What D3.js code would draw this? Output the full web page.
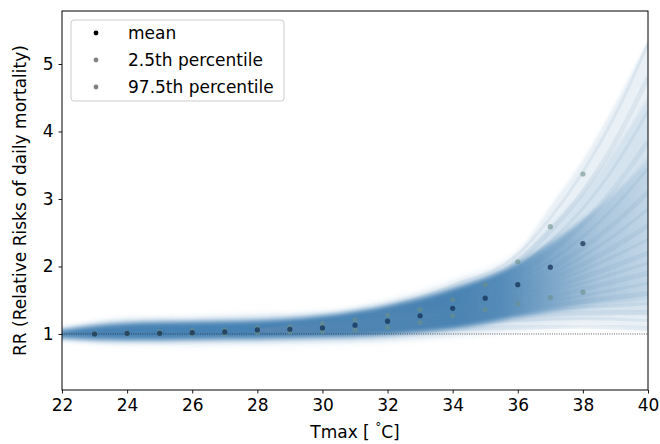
<!doctype html>
<meta charset="utf-8">
<title>RR vs Tmax</title>
<script src="https://cdn.jsdelivr.net/npm/d3@7"></script>
<style>
  body { margin: 0; background: #fff; }
  text { font-family: "DejaVu Sans", sans-serif; fill: #000; }
</style>
<body>
<div id="chart"></div>
<script>

// point estimates per degree
var temps = [23, 24, 25, 26, 27, 28, 29, 30, 31, 32, 33, 34, 35, 36, 37, 38];
var meanRR = [1.00, 1.01, 1.01, 1.02, 1.03, 1.06, 1.07, 1.09, 1.13, 1.19, 1.27, 1.38, 1.53, 1.73, 1.99, 2.34];
var p025 = [1.00, 1.00, 1.00, 1.00, 1.00, 1.02, 1.03, 1.04, 1.06, 1.10, 1.17, 1.27, 1.36, 1.45, 1.54, 1.62];
var p975 = [1.01, 1.02, 1.03, 1.05, 1.06, 1.10, 1.11, 1.15, 1.21, 1.28, 1.36, 1.51, 1.73, 2.07, 2.59, 3.37];

// envelope of the sampled curves
var fanT = [22, 24, 26, 28, 30, 32, 34, 36, 37, 38, 39, 40];
var coreLo = [0.94, 0.91, 0.92, 0.93, 0.95, 0.99, 1.08, 1.25, 1.33, 1.40, 1.45, 1.50];
var coreHi = [1.06, 1.16, 1.18, 1.20, 1.27, 1.42, 1.67, 2.05, 2.35, 2.70, 3.10, 3.60];
var midLo = [0.93, 0.88, 0.88, 0.89, 0.90, 0.93, 1.01, 1.15, 1.20, 1.25, 1.27, 1.28];
var midHi = [1.07, 1.20, 1.22, 1.25, 1.30, 1.46, 1.72, 2.12, 2.60, 3.10, 3.75, 4.50];
var outerLo = [0.92, 0.84, 0.83, 0.84, 0.85, 0.88, 0.95, 1.04, 1.08, 1.12, 1.10, 1.06];
var outerHi = [1.08, 1.24, 1.26, 1.30, 1.33, 1.50, 1.80, 2.24, 2.89, 3.58, 4.42, 5.36];

// a few individual curves
var streakT = [28, 30, 32, 34, 36, 37, 38, 39, 40];
var streaks = [
  [1.05, 1.02, 1.04, 1.08, 1.10, 1.11, 1.12, 1.10, 1.08],
  [1.05, 1.03, 1.06, 1.12, 1.20, 1.22, 1.23, 1.22, 1.20],
  [1.05, 1.04, 1.08, 1.16, 1.26, 1.29, 1.31, 1.32, 1.32],
  [1.05, 1.05, 1.10, 1.19, 1.30, 1.35, 1.39, 1.42, 1.45],
  [1.05, 1.06, 1.12, 1.22, 1.35, 1.42, 1.48, 1.54, 1.60],
  [1.05, 1.07, 1.13, 1.25, 1.40, 1.49, 1.57, 1.66, 1.75],
  [1.05, 1.08, 1.15, 1.28, 1.45, 1.55, 1.66, 1.78, 1.90],
  [1.05, 1.09, 1.17, 1.31, 1.50, 1.62, 1.75, 1.90, 2.05],
  [1.05, 1.10, 1.18, 1.33, 1.54, 1.68, 1.84, 2.01, 2.20],
  [1.05, 1.10, 1.20, 1.35, 1.58, 1.75, 1.94, 2.16, 2.40],
  [1.05, 1.11, 1.21, 1.37, 1.62, 1.81, 2.03, 2.30, 2.60],
  [1.05, 1.12, 1.22, 1.40, 1.67, 1.88, 2.15, 2.47, 2.85],
  [1.05, 1.13, 1.24, 1.43, 1.72, 1.96, 2.27, 2.65, 3.10],
  [1.05, 1.14, 1.26, 1.47, 1.80, 2.08, 2.44, 2.90, 3.45],
  [1.05, 1.15, 1.28, 1.52, 1.88, 2.21, 2.63, 3.18, 3.85],
  [1.05, 1.17, 1.31, 1.58, 1.98, 2.37, 2.86, 3.50, 4.30],
  [1.05, 1.19, 1.35, 1.65, 2.08, 2.53, 3.10, 3.85, 4.80],
  [1.05, 1.22, 1.40, 1.72, 2.18, 2.72, 3.40, 4.25, 5.30]
];

var xTicks = [22, 24, 26, 28, 30, 32, 34, 36, 38, 40];
var yTicks = [1, 2, 3, 4, 5];
var legendItems = [
  { label: 'mean', color: '#000' },
  { label: '2.5th percentile', color: '#808080' },
  { label: '97.5th percentile', color: '#808080' }
];

var W = 660, H = 444
  , margin = { top: 11, right: 12, bottom: 54, left: 62 }
  , iw = W - margin.left - margin.right
  , ih = H - margin.top - margin.bottom
  , blue = '#4682b4'
  , fs = '17px';

var x = d3.scaleLinear().domain([22, 40]).range([0, iw]);
var y = d3.scaleLinear().domain([0.17, 5.785]).range([ih, 0]);

var svg = d3.select('#chart').append('svg')
  .attr('width', W).attr('height', H);

var defs = svg.append('defs');
defs.append('clipPath').attr('id', 'plotclip')
  .append('rect').attr('width', iw).attr('height', ih);

defs.append('filter').attr('id', 'vblur')
  .attr('x', '-5%').attr('y', '-20%').attr('width', '110%').attr('height', '140%')
  .append('feGaussianBlur').attr('stdDeviation', '0 2.5');
defs.append('filter').attr('id', 'sblur')
  .append('feGaussianBlur').attr('stdDeviation', '0.7');

var grad = defs.append('linearGradient').attr('id', 'coregrad')
  .attr('gradientUnits', 'userSpaceOnUse')
  .attr('x1', x(22)).attr('x2', x(40)).attr('y1', 0).attr('y2', 0);
[[22, 1], [34, 1], [35.5, 0.9], [37, 0.6], [38.5, 0.3], [40, 0.14]].forEach(function(s) {
  grad.append('stop')
    .attr('offset', (s[0] - 22) / 18)
    .attr('stop-color', blue)
    .attr('stop-opacity', s[1]);
});

var g = svg.append('g').attr('transform', 'translate(' + margin.left + ',' + margin.top + ')');
var plot = g.append('g').attr('clip-path', 'url(#plotclip)');

function band(lo, hi) {
  return d3.area()
    .x(function(d, i) { return x(fanT[i]) })
    .y0(function(d, i) { return y(lo[i]) })
    .y1(function(d, i) { return y(hi[i]) })
    .curve(d3.curveMonotoneX)(fanT);
}

function dots(vals, color, op) {
  plot.append('g').selectAll('circle')
    .data(vals)
    .enter().append('circle')
    .attr('cx', function(d, i) { return x(temps[i]) })
    .attr('cy', function(d) { return y(d) })
    .attr('r', 2.6)
    .attr('fill', color)
    .attr('fill-opacity', op);
}

// faint halo, middle band, dense core
plot.append('path')
  .attr('d', band(outerLo, outerHi))
  .attr('fill', blue).attr('fill-opacity', 0.12)
  .attr('filter', 'url(#vblur)');
plot.append('path')
  .attr('d', band(midLo, midHi))
  .attr('fill', blue).attr('fill-opacity', 0.12)
  .attr('filter', 'url(#vblur)');
plot.append('path')
  .attr('d', band(coreLo, coreHi))
  .attr('fill', 'url(#coregrad)')
  .attr('filter', 'url(#vblur)');

var line = d3.line()
  .x(function(d, i) { return x(streakT[i]) })
  .y(function(d) { return y(d) })
  .curve(d3.curveMonotoneX);

plot.append('g').selectAll('path.streak')
  .data(streaks)
  .enter().append('path')
  .attr('class', 'streak')
  .attr('d', line)
  .attr('fill', 'none')
  .attr('stroke', '#5a86ad')
  .attr('stroke-opacity', 0.11)
  .attr('stroke-width', function(d, i) { return i % 2 ? 3 : 5 })
  .attr('filter', 'url(#sblur)');

// reference line RR = 1
plot.append('line')
  .attr('x1', 0).attr('x2', iw)
  .attr('y1', y(1)).attr('y2', y(1))
  .attr('stroke', '#333').attr('stroke-width', 0.8)
  .attr('stroke-dasharray', '1,1.3');

dots(p025, '#6a9088', 0.6);
dots(p975, '#6a9088', 0.6);
dots(meanRR, '#0e2a4e', 0.7);

// axes
var xAxis = g.append('g').attr('transform', 'translate(0,' + ih + ')')
  .call(d3.axisBottom(x).tickValues(xTicks).tickSize(3.5).tickPadding(5).tickFormat(d3.format('d')));
var yAxis = g.append('g')
  .call(d3.axisLeft(y).tickValues(yTicks).tickSize(3.5).tickPadding(5).tickFormat(d3.format('d')));
[xAxis, yAxis].forEach(function(a) {
  a.select('.domain').remove();
  a.selectAll('.tick line').attr('stroke', '#000').attr('stroke-width', 0.9);
  a.selectAll('.tick text').style('font-size', fs).style('font-family', '"DejaVu Sans", sans-serif');
});

g.append('rect')
  .attr('width', iw).attr('height', ih)
  .attr('fill', 'none').attr('stroke', '#000').attr('stroke-width', 1);

// labels
var xl = svg.append('text')
  .attr('x', margin.left + iw / 2).attr('y', 438)
  .attr('text-anchor', 'middle').style('font-size', fs);
xl.append('tspan').text('Tmax [ ');
xl.append('tspan').attr('dy', -7).style('font-size', '12px').text('°');
xl.append('tspan').attr('dy', 7).text('C]');

svg.append('text')
  .attr('transform', 'translate(26,' + (margin.top + ih / 2) + ') rotate(-90)')
  .attr('text-anchor', 'middle').style('font-size', fs)
  .text('RR (Relative Risks of daily mortality)');

// legend
var leg = svg.append('g').attr('transform', 'translate(71,20)');
leg.append('rect')
  .attr('width', 213).attr('height', 81).attr('rx', 3)
  .attr('fill', '#fff').attr('fill-opacity', 0.8)
  .attr('stroke', '#ccc').attr('stroke-width', 1);
legendItems.forEach(function(it, i) {
  var row = leg.append('g').attr('transform', 'translate(0,' + (13 + i * 27) + ')');
  row.append('circle').attr('cx', 25).attr('cy', 0).attr('r', 2.4).attr('fill', it.color);
  row.append('text').attr('x', 57).attr('y', 6).style('font-size', fs).text(it.label);
});

</script>
</body>
